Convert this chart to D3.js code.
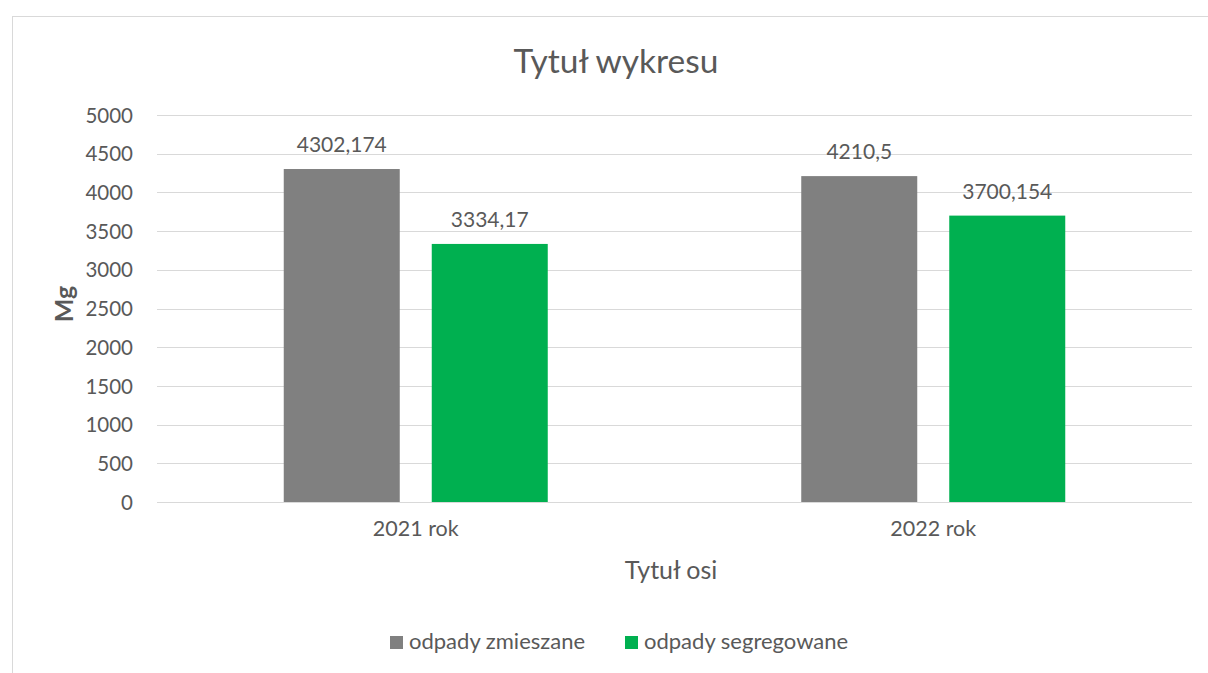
<!DOCTYPE html>
<html><head><meta charset="utf-8">
<script src="https://cdn.jsdelivr.net/npm/d3@7"></script>
<style>body{margin:0;background:#fff;} text{font-family:Lato, "Liberation Sans", sans-serif;fill:#595959;}</style>
</head><body>
<svg id="c" width="1208" height="673"></svg>
<script>
const categories = ["2021 rok", "2022 rok"];
const seriesNames = ["odpady zmieszane", "odpady segregowane"];
const mixedValues = [4302.174, 4210.5];
const segregatedValues = [3334.17, 3700.154];
const valueLabels = [["4302,174", "4210,5"], ["3334,17", "3700,154"]];
const yTicks = [0, 500, 1000, 1500, 2000, 2500, 3000, 3500, 4000, 4500, 5000];
const colors = ["#808080", "#00B050"];

const svg = d3.select("#c");
const W = 1208, H = 673;
const plot = {left: 157, right: 1192, top: 115, bottom: 502};

// chart border
svg.append("rect").attr("x", 12.5).attr("y", 16.5).attr("width", W).attr("height", H)
  .attr("fill", "none").attr("stroke", "#d9d9d9").attr("stroke-width", 1);

const y = d3.scaleLinear().domain([0, 5000]).range([plot.bottom, plot.top]);
const x0 = d3.scaleBand().domain(categories).range([plot.left, plot.right]).padding(0);
const groupW = 264;
const x1 = d3.scaleBand().domain(seriesNames).range([0, groupW]).paddingInner(32/148).paddingOuter(0);

// gridlines
svg.append("g").selectAll("line").data(yTicks).join("line")
  .attr("x1", plot.left).attr("x2", plot.right)
  .attr("y1", d => Math.round(y(d)) + 0.5).attr("y2", d => Math.round(y(d)) + 0.5)
  .attr("stroke", "#d9d9d9").attr("stroke-width", 1);

// y axis labels
const yAxis = d3.axisLeft(y).tickValues(yTicks).tickSize(0).tickPadding(0).tickFormat(d3.format("d"));
const gy = svg.append("g").attr("transform", `translate(${plot.left - 24},0)`).call(yAxis);
gy.select(".domain").remove();
gy.selectAll("text").style("font-size", "20.5px").attr("fill", "#595959").attr("dy", "0.35em");

// x axis labels
const xAxis = d3.axisBottom(x0).tickSize(0).tickPadding(0);
const gx = svg.append("g").attr("transform", `translate(0,${plot.bottom + 19})`).call(xAxis);
gx.select(".domain").remove();
gx.selectAll("text").style("font-size", "21.5px").attr("fill", "#595959").attr("dy", "0.71em");

const data = [mixedValues, segregatedValues];
const groups = svg.append("g").selectAll("g").data(categories).join("g")
  .attr("transform", c => `translate(${x0(c) + (x0.bandwidth() - groupW) / 2},0)`);

groups.each(function(c, ci) {
  const g = d3.select(this);
  seriesNames.forEach((s, si) => {
    const v = data[si][ci];
    g.append("rect").attr("x", x1(s)).attr("width", x1.bandwidth())
      .attr("y", y(v)).attr("height", y(0) - y(v)).attr("fill", colors[si]);
    g.append("text").attr("x", x1(s) + x1.bandwidth() / 2).attr("y", y(v) - 17)
      .attr("text-anchor", "middle").style("font-size", "21px").text(valueLabels[si][ci]);
  });
});

// title
svg.append("text").attr("x", 616).attr("y", 73).attr("text-anchor", "middle")
  .style("font-size", "33.5px").text("Tytuł wykresu");

// axis titles
svg.append("text").attr("x", 671).attr("y", 579).attr("text-anchor", "middle")
  .style("font-size", "25px").text("Tytuł osi");
svg.append("text").attr("transform", "translate(73,304) rotate(-90)").attr("text-anchor", "middle")
  .style("font-size", "25px").style("font-weight", "bold").text("Mg");

// legend
const legendX = [390, 625];
const lg = svg.append("g").selectAll("g").data(seriesNames).join("g")
  .attr("transform", (d, i) => `translate(${legendX[i]},636)`);
lg.append("rect").attr("width", 13).attr("height", 13).attr("fill", (d, i) => colors[i]);
lg.append("text").attr("x", 19).attr("y", 13).style("font-size", "22px").text(d => d);
</script>
</body></html>
